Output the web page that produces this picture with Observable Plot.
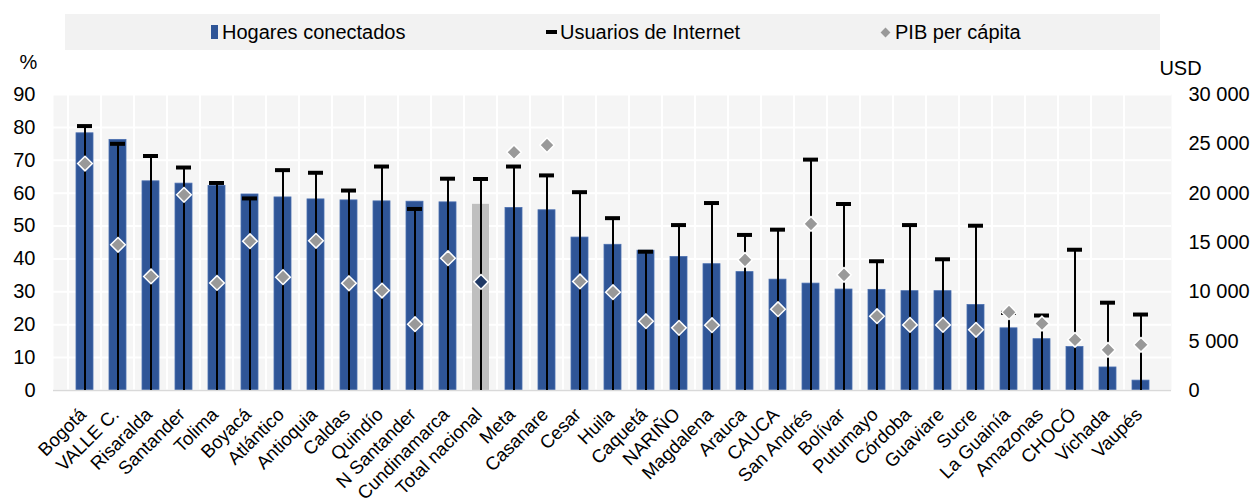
<!DOCTYPE html>
<html><head><meta charset="utf-8">
<script src="https://cdn.jsdelivr.net/npm/d3@7"></script>
<script src="https://cdn.jsdelivr.net/npm/@observablehq/plot@0.6"></script>
<style>
body{margin:0;background:#fff;font-family:"Liberation Sans",Arial,sans-serif;}
#wrap{width:1250px;}
#legend{position:relative;height:55px;}
.lbox{position:absolute;left:65px;top:14px;width:1095px;height:36px;background:#f2f2f2;}
.item{position:absolute;top:14px;height:36px;display:flex;align-items:center;font-size:20px;color:#000;white-space:nowrap;}
.sq{width:7px;height:14px;background:#2f5597;margin-right:4px;}
.dash{width:11px;height:4px;background:#000;margin-right:3px;}
.dia{width:7px;height:7px;background:#999;transform:rotate(45deg);margin-right:6px;margin-left:2px;}
</style></head>
<body>
<div id="wrap">
<div id="legend">
  <div class="lbox"></div>
  <div class="item" style="left:211px"><div class="sq"></div>Hogares conectados</div>
  <div class="item" style="left:546px"><div class="dash"></div>Usuarios de Internet</div>
  <div class="item" style="left:880px"><div class="dia"></div>PIB per cápita</div>
</div>
<div id="chart"></div>
</div>
<script>
const categories = ["Bogotá","VALLE C.","Risaralda","Santander","Tolima","Boyacá","Atlántico","Antioquia","Caldas","Quindío","N Santander","Cundinamarca","Total nacional","Meta","Casanare","Cesar","Huila","Caquetá","NARIÑO","Magdalena","Arauca","CAUCA","San Andrés","Bolívar","Putumayo","Córdoba","Guaviare","Sucre","La Guainía","Amazonas","CHOCÓ","Vichada","Vaupés"];
const hogares = [78.2,76.2,63.6,62.9,62.2,59.6,58.7,58.1,57.8,57.5,57.4,57.2,56.6,55.5,54.8,46.5,44.3,42.5,40.6,38.4,36.0,33.7,32.5,30.7,30.6,30.2,30.2,26.0,18.9,15.6,13.2,7.0,3.0];
const usuarios = [80.4,75.0,71.3,67.8,63.1,58.4,67.0,66.2,60.8,68.1,55.2,64.4,64.3,68.1,65.4,60.3,52.4,42.2,50.3,57.0,47.3,48.9,70.2,56.7,39.3,50.3,39.9,50.1,23.6,22.8,42.8,26.7,23.1];
const pib = [23000,14770,11560,19830,10900,15130,11490,15170,10870,10130,6720,13410,11010,24150,24870,11050,9960,7020,6350,6620,13240,8240,16890,11720,7530,6650,6650,6150,7940,6790,5140,4120,4630];
const pctTicks = [0,10,20,30,40,50,60,70,80,90];
const pibTicks = [0,5000,10000,15000,20000,25000,30000];
const totalName = "Total nacional";

const pibMax = 30000, pctMax = 90;
const ratio = pibMax / pctMax;
const data = categories.map((name,i)=>({name, hog:hogares[i], usr:usuarios[i], pib:pib[i], pibPct: pib[i]/ratio}));
const fmt = d3.formatLocale({decimal:",", thousands:"\u00a0", grouping:[3], currency:["",""]}).format(",d");

const W = 1250, H = 444, mL = 53, mR = 79, mT = 39, mB = 109;
const step = (W - mL - mR) / categories.length;
const font = "Liberation Sans, Arial, sans-serif";

const chart = Plot.plot({
  width: W, height: H,
  marginLeft: mL, marginRight: mR, marginTop: mT, marginBottom: mB,
  style: {fontFamily: font, fontSize: "20px", background: "white", color: "#000", overflow: "visible"},
  x: {domain: categories, padding: 0.5, label: null},
  y: {domain: [0, pctMax], label: null},
  marks: [
    Plot.frame({fill: "#f5f5f5", stroke: null}),
    Plot.gridY(pctTicks, {stroke: "white", strokeOpacity: 1, strokeWidth: 2}),
    Plot.ruleX(categories, {x: d => d, dx: -step/2, stroke: "white", strokeWidth: 2, strokeOpacity: 1}),
    Plot.barY(data.filter(d => d.name !== totalName), {x: "name", y: "hog", fill: "#2f5597", stroke: "#4a6fb0", strokeWidth: 0.8}),
    Plot.barY(data.filter(d => d.name === totalName), {x: "name", y: "hog", fill: "#bfbfbf"}),
    Plot.ruleY([0], {stroke: "#d9d9d9", strokeWidth: 1.5}),
    Plot.ruleX(data, {x: "name", y1: 0, y2: "usr", stroke: "black", strokeWidth: 2}),
    Plot.tickY(data, {x: "name", y: "usr", stroke: "black", strokeWidth: 4, inset: 1}),
    Plot.dot(data, {x: "name", y: "pibPct", symbol: "diamond2", r: 6.6, fill: d => d.name === totalName ? "#1f3864" : "#999999", stroke: "white", strokeWidth: 1.5}),
    Plot.axisY(pctTicks, {anchor: "left", tickSize: 0, tickPadding: 18, fontSize: 20, label: null}),
    Plot.axisY(pibTicks.map(v => v / ratio), {anchor: "right", tickSize: 0, tickPadding: 17, fontSize: 20, label: null, textAnchor: "start", tickFormat: d => fmt(Math.round(d * ratio))}),
    Plot.axisX({tickSize: 0, tickPadding: 21, tickRotate: -45, fontSize: 18.5, label: null, dx: -2}),
    Plot.text(["%"], {frameAnchor: "top-left", dx: -25, dy: -40, fontSize: 20, textAnchor: "middle"}),
    Plot.text(["USD"], {frameAnchor: "top-right", dx: 9, dy: -34, fontSize: 20, textAnchor: "middle"})
  ],
  color: {type: "identity"}
});
document.getElementById("chart").appendChild(chart);
</script>
</body></html>
